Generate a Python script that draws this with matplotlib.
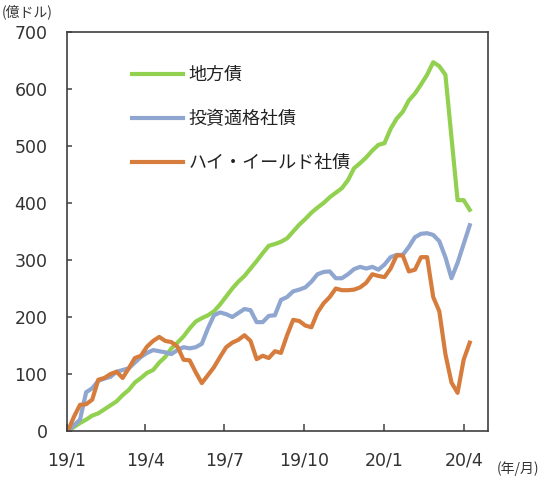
import matplotlib
matplotlib.use("Agg")
import matplotlib.pyplot as plt
import pandas as pd

# Weekly cumulative flows (100 million USD)
dates = pd.date_range("2019-01-02", periods=67, freq="7D")

muni = [0, 7, 14, 20, 27, 31, 38, 45, 52, 63, 72, 85, 93, 102, 107, 120, 130, 145,
        155, 166, 180, 192, 198, 203, 210, 222, 236, 250, 262, 272, 285, 298, 312,
        325, 328, 332, 338, 350, 362, 372, 383, 392, 400, 410, 418, 426, 440, 461,
        470, 480, 492, 502, 505, 530, 548, 560, 580, 592, 608, 625, 647, 640, 625,
        515, 405, 405, 388]

ig = [0, 10, 20, 68, 75, 88, 92, 95, 104, 107, 110, 120, 130, 137, 142, 140, 138,
      135, 142, 147, 145, 147, 153, 180, 203, 208, 205, 200, 207, 214, 212, 191,
      191, 202, 203, 230, 235, 245, 248, 252, 262, 275, 279, 280, 268, 268, 275,
      284, 288, 285, 288, 283, 292, 305, 309, 309, 323, 340, 346, 347, 344, 333,
      305, 268, 295, 328, 361]

hy = [0, 25, 46, 47, 55, 90, 93, 100, 104, 93, 110, 128, 132, 148, 158, 165, 158,
      156, 148, 125, 124, 103, 84, 98, 112, 130, 147, 155, 160, 168, 158, 126, 132,
      128, 140, 137, 168, 195, 193, 185, 182, 208, 224, 235, 250, 247, 247, 248,
      252, 260, 275, 272, 270, 285, 308, 308, 280, 283, 305, 305, 235, 210, 135,
      85, 67, 125, 155]

labels = ["地方債", "投資適格社債", "ハイ・イールド社債"]
colors = ["#92D050", "#8EA6D0", "#D67D3E"]

tick_dates = pd.to_datetime(["2019-01-01", "2019-04-01", "2019-07-01",
                             "2019-10-01", "2020-01-01", "2020-04-01"])
tick_labels = ["19/1", "19/4", "19/7", "19/10", "20/1", "20/4"]
yticks = [0, 100, 200, 300, 400, 500, 600, 700]

cjk = ["Noto Sans CJK JP", "DejaVu Sans"]

fig = plt.figure(figsize=(5.5, 4.79), dpi=100)
ax = fig.add_axes([0.1218, 0.1002, 0.7655, 0.833])

for series, lab, col in zip([muni, ig, hy], labels, colors):
    ax.plot(dates, series, color=col, lw=3.0, label=lab, solid_joinstyle="round")

ax.set_xlim(pd.Timestamp("2019-01-01"), pd.Timestamp("2020-04-29"))
ax.set_ylim(0, 700)
ax.set_xticks(tick_dates)
ax.set_xticklabels(tick_labels)
ax.set_yticks(yticks)
ax.tick_params(axis="x", direction="in", length=5, width=1.1, color="#404040",
               pad=15, labelsize=12.5, labelcolor="#333333")
ax.tick_params(axis="y", direction="in", length=3.6, width=1.1, color="#404040",
               pad=14, labelsize=12.5, labelcolor="#333333")
for sp in ax.spines.values():
    sp.set_color("#404040")
    sp.set_linewidth(1.2)

leg = ax.legend(loc="upper left", bbox_to_anchor=(0.154, 0.915), frameon=False,
                borderpad=0, borderaxespad=0, handlelength=2.85,
                handletextpad=0.3, labelspacing=1.45,
                prop={"family": cjk, "size": 13})
for t in leg.get_texts():
    t.set_color("#222222")

fig.text(0.003, 0.975, "(億ドル)", family=cjk, fontsize=10, color="#333333",
         ha="left", va="center")
fig.text(0.903, 0.022, "(年/月)", family=cjk, fontsize=10, color="#333333",
         ha="left", va="center")

fig.savefig("out.png", dpi=100)
